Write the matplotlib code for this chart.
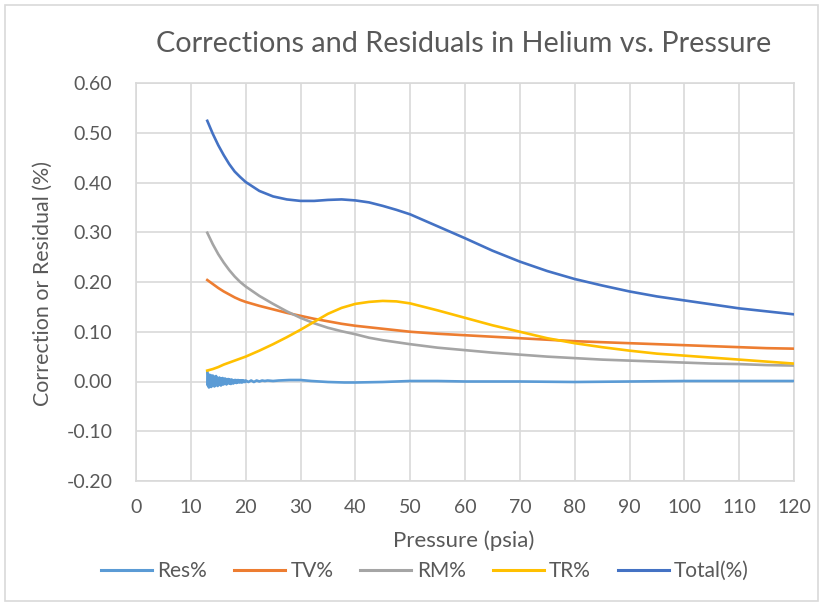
import matplotlib
matplotlib.use("Agg")
import matplotlib.pyplot as plt
from matplotlib.patches import Rectangle

# ---- data ----
pressure = [13, 14, 15, 16, 17, 18, 19, 20, 22.5, 25, 27.5, 30, 32.5, 35, 37.5, 40, 42.5,
            45, 47.5, 50, 55, 60, 65, 70, 75, 80, 85, 90, 95, 100, 105, 110, 115, 120]
tv_pct = [0.204, 0.196, 0.188, 0.181, 0.175, 0.169, 0.164, 0.160, 0.152, 0.145, 0.138,
          0.132, 0.126, 0.121, 0.116, 0.112, 0.109, 0.106, 0.103, 0.100, 0.096, 0.093,
          0.090, 0.087, 0.084, 0.081, 0.079, 0.077, 0.075, 0.073, 0.071, 0.069, 0.067,
          0.066]
rm_pct = [0.299, 0.276, 0.256, 0.239, 0.224, 0.211, 0.200, 0.191, 0.172, 0.156, 0.141,
          0.128, 0.117, 0.108, 0.101, 0.095, 0.088, 0.083, 0.079, 0.075, 0.068, 0.063,
          0.058, 0.054, 0.050, 0.047, 0.044, 0.042, 0.040, 0.038, 0.036, 0.035, 0.033,
          0.032]
tr_pct = [0.022, 0.025, 0.029, 0.034, 0.038, 0.042, 0.046, 0.050, 0.062, 0.075, 0.089,
          0.104, 0.120, 0.136, 0.148, 0.156, 0.160, 0.162, 0.161, 0.157, 0.143, 0.128,
          0.113, 0.100, 0.087, 0.077, 0.069, 0.062, 0.056, 0.052, 0.048, 0.044, 0.040,
          0.036]
total_pct = [0.524, 0.498, 0.475, 0.455, 0.437, 0.422, 0.411, 0.401, 0.383, 0.372, 0.366,
             0.363, 0.363, 0.365, 0.366, 0.364, 0.360, 0.353, 0.345, 0.336, 0.312, 0.288,
             0.263, 0.241, 0.222, 0.206, 0.193, 0.181, 0.171, 0.163, 0.155, 0.147, 0.141,
             0.135]

res_pressure = [13.0, 13.1, 13.2, 13.3, 13.4, 13.5, 13.6, 13.7, 13.8, 13.9,
                14.0, 14.1, 14.2, 14.3, 14.4, 14.5, 14.6, 14.7, 14.8, 14.9,
                15.0, 15.1, 15.2, 15.3, 15.4, 15.5, 15.6, 15.7, 15.8, 15.9,
                16.0, 16.1, 16.2, 16.3, 16.4, 16.5, 16.6, 16.7, 16.8, 16.9,
                17.0, 17.1, 17.2, 17.3, 17.4, 17.5, 17.6, 17.7, 17.8, 17.9,
                18.0, 18.1, 18.2, 18.3, 18.4, 18.5, 18.6, 18.7, 18.8, 18.9,
                19.0, 19.1, 19.2, 19.3, 19.4, 19.5, 19.6, 19.7, 19.8, 19.9,
                20.0, 20.5, 21.0, 21.5, 22.0, 22.5, 23.0, 23.5, 24.0, 25.0,
                26.0, 28.0, 30.0, 32.0, 35.0, 38.0, 40.0, 45.0, 50.0, 55.0,
                60.0, 70.0, 80.0, 90.0, 100.0, 110.0, 120.0]
res_pct = [0.020, -0.008, 0.015, -0.012, 0.010, -0.006, 0.013, -0.011, 0.008, -0.009,
           0.012, -0.007, 0.010, -0.010, 0.006, -0.008, 0.011, -0.005, 0.007, -0.009,
           0.006, -0.006, 0.008, -0.007, 0.005, -0.008, 0.006, -0.004, 0.007, -0.006,
           0.004, -0.005, 0.006, -0.004, 0.005, -0.006, 0.003, -0.004, 0.005, -0.003,
           0.004, -0.004, 0.003, -0.005, 0.004, -0.002, 0.003, -0.004, 0.002, -0.003,
           0.003, -0.002, 0.003, -0.003, 0.002, -0.002, 0.003, -0.001, 0.002, -0.002,
           0.002, -0.001, 0.002, -0.002, 0.002, -0.001, 0.002, -0.001, 0.001, -0.001,
           0.002, -0.001, 0.002, -0.001, 0.002, 0.000, 0.002, 0.001, 0.002, 0.001,
           0.002, 0.003, 0.003, 0.001, -0.001, -0.002, -0.002, -0.001, 0.001, 0.001,
           0.000, 0.000, -0.001, 0.000, 0.001, 0.001, 0.001]

series_names = ["Res%", "TV%", "RM%", "TR%", "Total(%)"]
series_colors = ["#5B9BD5", "#ED7D31", "#A5A5A5", "#FFC000", "#4472C4"]
x_ticks = list(range(0, 121, 10))
y_ticks = [-0.20, -0.10, 0.00, 0.10, 0.20, 0.30, 0.40, 0.50, 0.60]

plt.rcParams['font.family'] = ['Lato', 'DejaVu Sans']
text_color = "#595959"
grid_color = "#D9D9D9"

fig = plt.figure(figsize=(8.23, 6.06), dpi=100)
ax = fig.add_axes([136/823, 1-481/606, (794-136)/823, (481-83)/606])

lw = 1.9
ax.plot(res_pressure, res_pct, color=series_colors[0], lw=lw, label=series_names[0], zorder=3)
ax.plot(pressure, tv_pct, color=series_colors[1], lw=lw, label=series_names[1], zorder=3)
ax.plot(pressure, rm_pct, color=series_colors[2], lw=lw, label=series_names[2], zorder=3)
ax.plot(pressure, tr_pct, color=series_colors[3], lw=lw, label=series_names[3], zorder=3)
ax.plot(pressure, total_pct, color=series_colors[4], lw=lw, label=series_names[4], zorder=3)

ax.set_xlim(0, 120)
ax.set_ylim(-0.20, 0.60)
ax.set_xticks(x_ticks)
ax.set_yticks(y_ticks)
ax.set_xticklabels([str(t) for t in x_ticks])
ax.set_yticklabels([f"{t:.2f}" for t in y_ticks])
ax.tick_params(axis='both', length=0, labelsize=14, labelcolor=text_color)
ax.tick_params(axis='y', pad=17)
ax.tick_params(axis='x', pad=13)
ax.grid(True, color=grid_color, lw=1.2, zorder=0)
for s in ax.spines.values():
    s.set_color(grid_color)
    s.set_linewidth(1.2)

fig.text(464/823, 1-541/606, "Pressure (psia)", fontsize=16, color=text_color,
         ha='center', va='center')
fig.text(43/823, 1-283/606, "Correction or Residual (%)", fontsize=15.4, color=text_color,
         ha='center', va='center', rotation=90)
fig.text(464/823, 1-44/606, "Corrections and Residuals in Helium vs. Pressure",
         fontsize=20.8, color=text_color, ha='center', va='center')

leg = fig.legend(loc='center', bbox_to_anchor=(425/823, 1-571/606), ncol=5,
                 frameon=False, fontsize=15, handlelength=2.45, columnspacing=1.3,
                 handletextpad=0.25)
for t in leg.get_texts():
    t.set_color(text_color)
for h in leg.legend_handles:
    h.set_linewidth(2.2)

fig.patches.append(Rectangle((5/823, 5/606), 813/823, 596/606, transform=fig.transFigure,
                             fill=False, edgecolor="#D9D9D9", lw=1.2))

fig.savefig("out.png", dpi=100)
